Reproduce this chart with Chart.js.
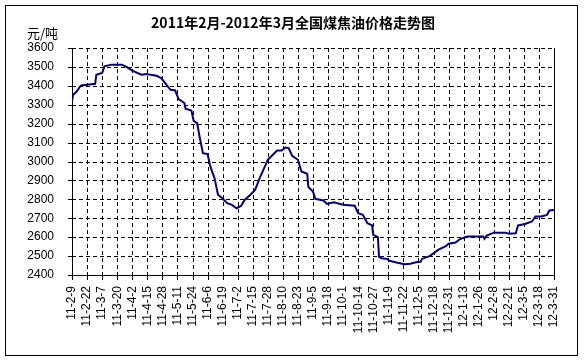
<!DOCTYPE html>
<html>
<head>
<meta charset="utf-8">
<script src="https://cdn.jsdelivr.net/npm/chart.js@4.4.1/dist/chart.umd.min.js"></script>
<style>
  body { margin: 0; background: #fff; }
  #wrap { width: 584px; height: 362px; position: relative; }
</style>
</head>
<body>
<div id="wrap"><canvas id="priceChart" width="584" height="362"></canvas></div>
<script>
const chartTitle = '2011年2月-2012年3月全国煤焦油价格走势图';
const unitLabel = '元/吨';

// 横轴刻度（每13天一个）
const tickLabels = ['11-2-9', '11-2-22', '11-3-7', '11-3-20', '11-4-2', '11-4-15', '11-4-28', '11-5-11',
  '11-5-24', '11-6-6', '11-6-19', '11-7-2', '11-7-15', '11-7-28', '11-8-10', '11-8-23', '11-9-5',
  '11-9-18', '11-10-1', '11-10-14', '11-10-27', '11-11-9', '11-11-22', '11-12-5', '11-12-18',
  '11-12-31', '12-1-13', '12-1-26', '12-2-8', '12-2-21', '12-3-5', '12-3-18', '12-3-31'];

// 距 2011-2-9 的天数
const days = [0, 1, 4, 7, 8, 20, 21, 26, 28, 34,
  43, 47, 52, 60, 64, 73, 77, 85, 89, 92,
  97, 98, 103, 105, 108, 110, 113, 117, 119, 121,
  123, 126, 129, 134, 138, 142, 146, 149, 154, 158,
  162, 169, 177, 181, 184, 187, 190, 195, 198, 203,
  204, 208, 210, 217, 220, 226, 234, 244, 247, 251,
  255, 259, 260, 264, 265, 267, 272, 274, 280, 287,
  292, 296, 301, 302, 309, 316, 323, 325, 331, 335,
  341, 355, 356, 358, 364, 374, 377, 383, 385, 391,
  397, 400, 405, 410, 412, 416];

// 煤焦油价格 元/吨
const prices = [3320, 3353, 3370, 3397, 3402, 3411, 3459, 3468, 3503, 3512,
  3512, 3500, 3480, 3459, 3462, 3453, 3441, 3379, 3376, 3330,
  3309, 3279, 3270, 3215, 3203, 3135, 3044, 3039, 2983, 2945,
  2912, 2824, 2810, 2780, 2771, 2753, 2766, 2797, 2824, 2850,
  2912, 3009, 3058, 3058, 3074, 3071, 3030, 3009, 2947, 2935,
  2865, 2841, 2803, 2794, 2776, 2785, 2771, 2766, 2727, 2718,
  2674, 2662, 2612, 2600, 2497, 2489, 2485, 2475, 2466, 2457,
  2460, 2466, 2471, 2485, 2501, 2533, 2554, 2565, 2572, 2590,
  2603, 2603, 2591, 2609, 2624, 2624, 2618, 2621, 2662, 2670,
  2683, 2709, 2709, 2718, 2741, 2744];

const points = days.map((d, i) => ({ x: d, y: prices[i] }));

// 虚线网格 + 刻度线（按坐标轴的刻度来画，用 fillRect 画成整像素）
const gridPlugin = {
  id: 'dashGrid',
  beforeDatasetsDraw(chart) {
    const ctx = chart.ctx;
    const a = chart.chartArea;
    const xs = chart.scales.x;
    const ys = chart.scales.y;
    const l = Math.round(a.left), r = Math.round(a.right);
    const t = Math.round(a.top), b = Math.round(a.bottom);
    ctx.save();
    ctx.fillStyle = '#000';
    xs.ticks.forEach(tk => {
      const px = Math.round(xs.getPixelForValue(tk.value));
      for (let y = t; y < b; y += 7) ctx.fillRect(px, y, 1, Math.min(4, b - y));
      ctx.fillRect(px, b, 1, 5);
    });
    ys.ticks.forEach(tk => {
      const py = Math.round(ys.getPixelForValue(tk.value));
      for (let x = l; x < r; x += 7) ctx.fillRect(x, py, Math.min(4, r - x), 1);
      ctx.fillRect(l - 4, py, 4, 1);
    });
    // 左、下、右边线为实线
    ctx.fillRect(l, t, 1, b - t + 1);
    ctx.fillRect(l, b, r - l + 1, 1);
    ctx.fillRect(r, t, 1, b - t + 1);
    ctx.restore();
  },
  afterDraw(chart) {
    const ctx = chart.ctx;
    ctx.save();
    ctx.fillStyle = '#000';
    ctx.fillRect(5, 5, 573, 1);
    ctx.fillRect(5, 355, 573, 1);
    ctx.fillRect(5, 5, 1, 351);
    ctx.fillRect(577, 5, 1, 351);
    ctx.textBaseline = 'middle';
    ctx.textAlign = 'center';
    ctx.font = 'bold 14px "Noto Sans CJK SC"';
    ctx.fillText(chartTitle, 293, 23);
    ctx.textAlign = 'left';
    ctx.font = '13px "Noto Sans CJK SC"';
    ctx.fillText(unitLabel, 27, 33);
    ctx.restore();
  }
};

new Chart(document.getElementById('priceChart'), {
  type: 'line',
  data: {
    datasets: [{
      data: points,
      borderColor: '#000080',
      borderWidth: 2,
      pointRadius: 0,
      tension: 0,
      fill: false
    }]
  },
  options: {
    responsive: false,
    animation: false,
    layout: { padding: { left: 0, top: 48, right: 30, bottom: 0 } },
    plugins: {
      legend: { display: false },
      tooltip: { enabled: false }
    },
    scales: {
      x: {
        type: 'linear',
        min: 0,
        max: 416,
        afterFit: s => { s.height = 87; },
        ticks: {
          stepSize: 13,
          autoSkip: false,
          maxRotation: 90,
          minRotation: 90,
          padding: 7,
          color: '#000',
          font: { family: '"Liberation Sans", Arial', size: 12 },
          callback: v => tickLabels[Math.round(v / 13)]
        },
        grid: { display: false, tickLength: 4 },
        border: { display: false }
      },
      y: {
        min: 2400,
        max: 3600,
        afterFit: s => { s.width = 72; },
        ticks: {
          stepSize: 100,
          padding: 14,
          color: '#000',
          font: { family: '"Liberation Sans", Arial', size: 12 },
          callback: v => String(v)
        },
        grid: { display: false, tickLength: 4 },
        border: { display: false }
      }
    }
  },
  plugins: [gridPlugin]
});
</script>
</body>
</html>
